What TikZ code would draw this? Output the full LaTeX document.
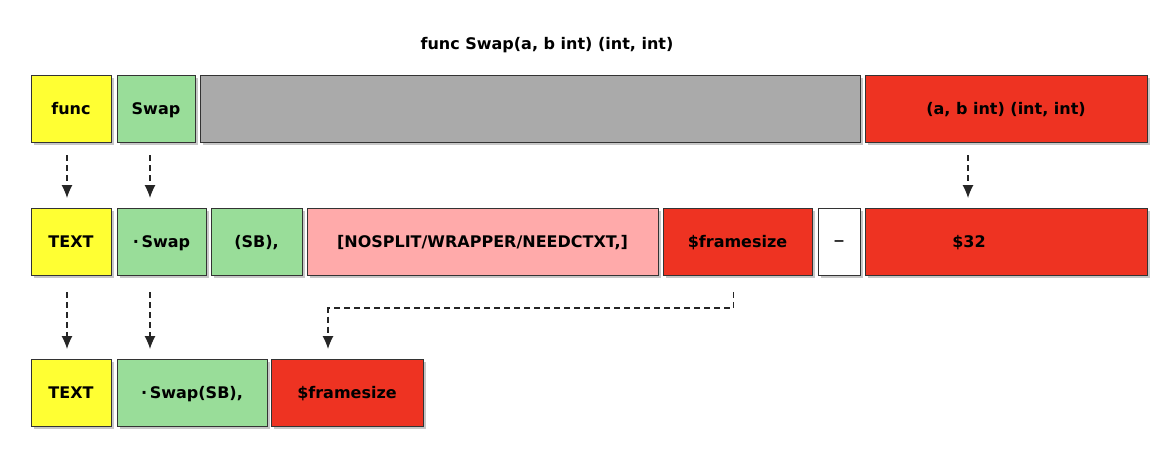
\documentclass[tikz,border=0pt]{standalone}
\usepackage{fontspec}
\setmainfont{DejaVu Sans}
\usetikzlibrary{shadows,arrows.meta}
\definecolor{cyel}{HTML}{FFFF33}
\definecolor{cgrn}{HTML}{99DD99}
\definecolor{cgry}{HTML}{AAAAAA}
\definecolor{cred}{HTML}{EE3322}
\definecolor{cpnk}{HTML}{FFAAAA}
\tikzset{
  lbl/.style={font=\fontsize{16}{19}\selectfont\bfseries, text height=12.5pt, text depth=0.5pt},
  box/.style={lbl, draw=black!80, line width=1pt, inner sep=0pt, outer sep=0pt, anchor=north west,
    drop shadow={shadow xshift=3pt, shadow yshift=-3pt, fill=black, opacity=0.22}},
  darr/.style={-{Latex[length=13pt,width=11pt]}, line width=1.1pt, dash pattern=on 6pt off 4pt, black!85},
}
\newcommand\mkbox[7]{% name, x1, x2, ytop, height, fill, text
  \node[box, fill=#6, minimum width={(#3-#2)*1pt}, minimum height={#5*1pt}] (#1) at (#2pt,-#4pt) {#7};}
\begin{document}
\begin{tikzpicture}[x=1pt,y=1pt]
\useasboundingbox[fill=white] (0,0) rectangle (1160,-455);
\node[lbl] (title) at (547,-43) {func Swap(a, b int) (int, int)};
% row 1
\mkbox{func}{31}{111}{75}{67}{cyel}{func}
\mkbox{swap}{117}{195}{75}{67}{cgrn}{Swap}
\mkbox{gray}{200}{860}{75}{67}{cgry}{}
\mkbox{sig}{865}{1147}{75}{67}{cred}{(a, b int) (int, int)}
% row 2
\mkbox{textb}{31}{111}{208}{67}{cyel}{TEXT}
\mkbox{dswap}{117}{206}{208}{67}{cgrn}{·\,Swap}
\mkbox{sb}{211}{302}{208}{67}{cgrn}{(SB),}
\mkbox{flags}{307}{658}{208}{67}{cpnk}{[NOSPLIT/WRAPPER/NEEDCTXT,]}
\mkbox{fs}{663}{812}{208}{67}{cred}{\$framesize}
\mkbox{dash}{818}{860}{208}{67}{white}{\fontsize{22}{24}\mdseries\selectfont\textendash}
\mkbox{ret}{865}{1147}{208}{67}{cred}{}
\node[lbl] (n32) at (969,-241.5) {\$32};
% row 3
\mkbox{textc}{31}{111}{359}{67}{cyel}{TEXT}
\mkbox{swapsb}{117}{267}{359}{67}{cgrn}{·\,Swap(SB),}
\mkbox{fs2}{271}{423}{359}{67}{cred}{\$framesize}
% arrows
\draw[darr, shorten <=13pt, shorten >=10pt] ([xshift=-4pt]func.south) -- ([xshift=-4pt]textb.north);
\draw[darr, shorten <=13pt, shorten >=10pt] ([xshift=-6pt]swap.south) -- ([xshift=-6pt]swap.south |- dswap.north);
\draw[darr, shorten <=13pt, shorten >=10pt] ([xshift=-38pt]sig.south) -- ([xshift=-38pt]sig.south |- ret.north);
\draw[darr, shorten <=17pt, shorten >=10pt] ([xshift=-4pt]textb.south) -- ([xshift=-4pt]textc.north);
\draw[darr, shorten <=17pt, shorten >=10pt] ([xshift=-6pt]swap.south |- dswap.south) -- ([xshift=-6pt]swap.south |- swapsb.north);
\coordinate (elb) at ([xshift=-4pt,yshift=-33pt]fs.south);
\coordinate (fs2in) at ([xshift=-19pt]fs2.north);
\draw[darr, shorten >=10pt] ([xshift=-4pt,yshift=-17pt]fs.south) -- (elb) -- (elb -| fs2in) -- (fs2in);
\end{tikzpicture}
\end{document}
